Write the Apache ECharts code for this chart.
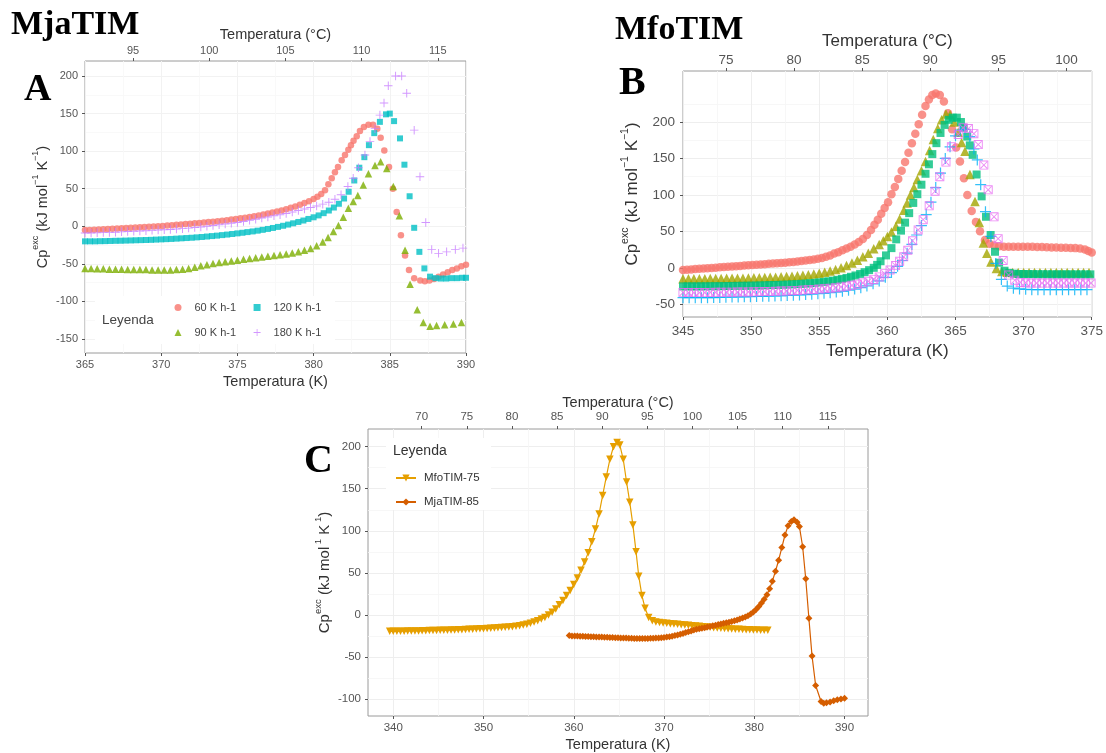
<!DOCTYPE html>
<html><head><meta charset="utf-8">
<script src="https://cdn.jsdelivr.net/npm/echarts@6/dist/echarts.min.js"></script>
<style>html,body{margin:0;padding:0;background:#fff}#c{width:1106px;height:753px}</style>
</head><body><div id="c"></div>
<script>
// ---------- Panel A (MjaTIM) ----------
const A_X_TICKS = [365, 370, 375, 380, 385, 390];
const A_X_MINOR = [367.5, 372.5, 377.5, 382.5, 387.5];
const A_C_TICKS = [95, 100, 105, 110, 115];
const A_Y_TICKS = [-150, -100, -50, 0, 50, 100, 150, 200];
const A_Y_MINOR = [-125, -75, -25, 25, 75, 125, 175];
const A_NAMES = ['60 K h-1', '90 K h-1', '120 K h-1', '180 K h-1'];
const A_60 = [[365.0,-5],[365.3,-5],[365.6,-4.6],[365.9,-4.3],[366.2,-4],[366.5,-3.7],[366.8,-3.3],[367.1,-3],[367.4,-2.6],[367.7,-2.3],[368.0,-2],[368.3,-1.6],[368.6,-1.3],[368.9,-1],[369.2,-0.6],[369.5,-0.3],[369.8,0],[370.1,0.5],[370.4,1],[370.7,1.5],[371.0,2],[371.3,2.5],[371.6,3],[371.9,3.5],[372.2,4],[372.5,4.5],[372.8,5],[373.1,5.6],[373.4,6.2],[373.7,6.8],[374.0,7.5],[374.3,8.2],[374.6,9],[374.9,9.8],[375.2,10.6],[375.5,11.5],[375.8,12.4],[376.1,13.4],[376.4,14.5],[376.7,15.6],[377.0,17],[377.3,18.3],[377.6,19.7],[377.9,21.2],[378.2,22.8],[378.5,24.6],[378.8,26.5],[379.1,28.6],[379.4,31],[379.7,33.5],[380.0,36.5],[380.25,39.5],[380.5,43],[380.75,48],[380.97,56],[381.19,64],[381.4,72],[381.6,79],[381.84,88],[382.06,95],[382.28,102],[382.45,108],[382.62,114],[382.83,120],[383.04,127],[383.3,132],[383.6,135],[383.9,135],[384.18,130],[384.4,118],[384.64,101],[384.95,79],[385.2,50],[385.45,19],[385.73,-12],[386.0,-39],[386.26,-58],[386.6,-69],[387.0,-72],[387.3,-73],[387.6,-72],[387.9,-70],[388.2,-67],[388.5,-64],[388.8,-61],[389.1,-58],[389.4,-56],[389.7,-53],[390.0,-51]];
const A_90 = [[365.0,-56],[365.4,-56],[365.8,-56.5],[366.2,-56.5],[366.6,-57],[367.0,-57],[367.4,-57],[367.8,-57.5],[368.2,-57.5],[368.6,-57.5],[369.0,-57.5],[369.4,-58],[369.8,-58],[370.2,-58],[370.6,-58],[371.0,-57.5],[371.4,-57],[371.8,-56],[372.2,-54.5],[372.6,-52.5],[373.0,-51],[373.4,-49.5],[373.8,-48],[374.2,-47],[374.6,-46],[375.0,-45],[375.4,-44],[375.8,-43],[376.2,-42],[376.6,-41],[377.0,-40],[377.4,-39],[377.8,-38],[378.2,-37],[378.6,-35.5],[379.0,-34],[379.4,-32],[379.8,-29.5],[380.2,-26],[380.6,-21],[380.95,-15],[381.3,-7],[381.63,1],[381.95,12],[382.28,24],[382.6,33],[382.9,41],[383.26,55],[383.6,70],[384.03,81],[384.4,86],[384.8,77],[385.23,53],[385.63,14],[386.0,-32],[386.33,-77],[386.8,-111],[387.2,-128],[387.64,-133],[388.07,-132],[388.6,-131],[389.17,-130],[389.7,-128]];
const A_120 = [[365.0,-20],[365.33,-20],[365.66,-20],[366.0,-19.8],[366.33,-19.7],[366.66,-19.5],[367.0,-19.3],[367.33,-19.2],[367.66,-19],[368.0,-18.8],[368.33,-18.6],[368.66,-18.4],[369.0,-18.2],[369.33,-18],[369.66,-17.7],[370.0,-17.4],[370.33,-17.1],[370.66,-16.8],[371.0,-16.4],[371.33,-16],[371.66,-15.6],[372.0,-15.2],[372.33,-14.7],[372.66,-14.2],[373.0,-13.6],[373.33,-13],[373.66,-12.4],[374.0,-11.7],[374.33,-11],[374.66,-10.2],[375.0,-9.4],[375.33,-8.6],[375.66,-7.7],[376.0,-6.8],[376.33,-5.8],[376.66,-4.7],[377.0,-3.5],[377.33,-2.2],[377.66,-0.8],[378.0,0.7],[378.33,2.3],[378.66,4],[379.0,5.8],[379.33,7.7],[379.66,9.8],[380.0,12],[380.33,14.5],[380.66,17.5],[381.0,21],[381.33,25],[381.66,30],[382.0,37],[382.3,46],[382.67,61],[383.0,78],[383.33,92],[383.63,108],[383.98,124],[384.35,139],[384.75,149],[385.0,150],[385.28,140],[385.67,117],[385.96,82],[386.3,40],[386.6,-2],[386.94,-34],[387.27,-56],[387.64,-67],[388.0,-69],[388.35,-69.5],[388.7,-69.5],[389.05,-69],[389.4,-69],[389.75,-68.5],[390.0,-68.5]];
const A_180 = [[365.0,-9],[365.4,-9],[365.8,-8.7],[366.2,-8.4],[366.6,-8.1],[367.0,-7.8],[367.4,-7.4],[367.8,-7],[368.2,-6.6],[368.6,-6.2],[369.0,-5.8],[369.4,-5.4],[369.8,-5],[370.2,-4.6],[370.6,-4.2],[371.0,-3.7],[371.4,-3.1],[371.8,-2.4],[372.2,-1.6],[372.6,-0.8],[373.0,0],[373.4,1],[373.8,2],[374.2,3],[374.6,4],[375.0,5],[375.4,6.5],[375.8,8],[376.2,9.5],[376.6,11],[377.0,12.5],[377.4,14],[377.8,15.5],[378.2,17],[378.6,19],[379.0,21],[379.4,23],[379.8,25],[380.2,27],[380.6,29.5],[381.0,32],[381.4,36],[381.8,42],[382.25,53],[382.6,64],[382.94,78],[383.37,95],[383.7,113],[384.03,130],[384.35,148],[384.62,164],[384.9,187],[385.38,200],[385.78,200],[386.11,177],[386.6,128],[386.98,66],[387.36,5],[387.75,-31],[388.2,-36],[388.73,-34],[389.3,-31],[389.8,-29]];

// ---------- Panel B (MfoTIM) ----------
const B_X_TICKS = [345, 350, 355, 360, 365, 370, 375];
const B_X_MINOR = [347.5, 352.5, 357.5, 362.5, 367.5, 372.5];
const B_C_TICKS = [75, 80, 85, 90, 95, 100];
const B_Y_TICKS = [-50, 0, 50, 100, 150, 200];
const B_Y_MINOR = [-25, 25, 75, 125, 175, 225];
const B_RED = [[345.0,-3],[345.3,-2.6],[345.6,-2.2],[345.9,-1.8],[346.2,-1.4],[346.5,-1],[346.8,-0.6],[347.1,-0.2],[347.4,0.2],[347.7,0.6],[348.0,1],[348.3,1.4],[348.6,1.8],[348.9,2.2],[349.2,2.6],[349.5,3],[349.8,3.4],[350.1,3.8],[350.4,4.2],[350.7,4.6],[351.0,5],[351.3,5.4],[351.6,5.8],[351.9,6.2],[352.2,6.6],[352.5,7],[352.8,7.5],[353.1,8],[353.4,8.6],[353.7,9.2],[354.0,9.9],[354.3,10.6],[354.6,11.4],[354.9,12.3],[355.2,13.5],[355.5,15],[355.8,17],[356.1,19.5],[356.4,21.5],[356.7,24],[357.0,26.5],[357.3,29],[357.6,32],[357.9,35.5],[358.2,39.5],[358.5,45],[358.8,52],[359.05,59],[359.3,66],[359.55,74],[359.8,82],[360.05,90],[360.3,101],[360.55,111],[360.8,122],[361.05,133],[361.3,145],[361.55,158],[361.8,171],[362.05,184],[362.3,197],[362.55,210],[362.8,222],[363.05,231],[363.3,237],[363.55,239],[363.85,237],[364.15,228],[364.45,212],[364.75,190],[365.05,165],[365.33,146],[365.62,123],[365.87,100],[366.19,78],[366.5,63],[366.8,50],[367.16,38],[367.5,33],[367.85,30.5],[368.2,29.5],[368.55,29],[368.9,29],[369.25,29],[369.6,29],[369.95,29],[370.3,29],[370.65,28.8],[371.0,28.6],[371.35,28.4],[371.7,28.2],[372.05,28],[372.4,27.8],[372.75,27.6],[373.1,27.4],[373.45,27.2],[373.8,27],[374.15,26.5],[374.5,25],[374.75,23],[375.0,21]];
const B_OLIVE = [[345.0,-15],[345.4,-15],[345.8,-15],[346.2,-15],[346.6,-14.9],[347.0,-14.8],[347.4,-14.7],[347.8,-14.6],[348.2,-14.5],[348.6,-14.4],[349.0,-14.3],[349.4,-14.2],[349.8,-14],[350.2,-13.8],[350.6,-13.6],[351.0,-13.4],[351.4,-13.1],[351.8,-12.8],[352.2,-12.4],[352.6,-12],[353.0,-11.5],[353.4,-11],[353.8,-10.3],[354.2,-9.5],[354.6,-8.6],[355.0,-7.5],[355.4,-6],[355.8,-4.5],[356.2,-2.5],[356.6,0],[357.0,3],[357.4,6.5],[357.8,10.5],[358.2,15],[358.6,20],[359.0,26],[359.4,32],[359.7,37],[360.0,43],[360.3,49],[360.63,57],[360.9,67],[361.21,79],[361.45,89],[361.7,100],[361.95,110],[362.2,121],[362.5,133],[362.8,146],[363.1,161],[363.37,176],[363.7,191],[363.98,203],[364.3,211],[364.6,210],[364.9,200],[365.2,186],[365.45,172],[365.7,160],[366.06,128],[366.43,91],[366.75,62],[367.04,34],[367.3,20],[367.6,8],[368.0,-1],[368.4,-5],[368.8,-6],[369.2,-6.5],[369.6,-6.5],[370.0,-6.5],[370.4,-6.5],[370.8,-6.5],[371.2,-6.5],[371.6,-6.5],[372.0,-6.5],[372.4,-6.5],[372.8,-6.5],[373.2,-6.5],[373.6,-6.5],[374.0,-6.5],[374.4,-6.5],[374.8,-6.5]];
const B_GREEN = [[345.0,-25.5],[345.33,-25.5],[345.66,-25.5],[346.0,-25.5],[346.33,-25.4],[346.66,-25.4],[347.0,-25.3],[347.33,-25.3],[347.66,-25.2],[348.0,-25.1],[348.33,-25],[348.66,-24.9],[349.0,-24.8],[349.33,-24.7],[349.66,-24.6],[350.0,-24.5],[350.33,-24.4],[350.66,-24.2],[351.0,-24],[351.33,-23.8],[351.66,-23.6],[352.0,-23.4],[352.33,-23.2],[352.66,-23],[353.0,-22.7],[353.33,-22.4],[353.66,-22],[354.0,-21.6],[354.33,-21.1],[354.66,-20.6],[355.0,-20],[355.33,-19.3],[355.66,-18.5],[356.0,-17.6],[356.33,-16.5],[356.66,-15.3],[357.0,-13.9],[357.33,-12.3],[357.66,-10.5],[358.0,-8.4],[358.33,-6],[358.66,-3.2],[359.0,0],[359.25,4],[359.5,9],[359.9,17],[360.3,27],[360.65,39],[361.0,51],[361.3,62],[361.6,75],[361.9,89],[362.2,101],[362.5,114],[362.8,129],[363.05,142],[363.3,156],[363.6,171],[363.9,185],[364.2,196],[364.5,203],[364.8,206],[365.1,206],[365.4,200],[365.6,192],[365.86,180],[366.05,168],[366.26,155],[366.55,128],[366.92,98],[367.24,70],[367.58,45],[367.9,22],[368.2,7],[368.6,-4],[368.95,-7],[369.3,-8],[369.65,-8.5],[370.0,-8.5],[370.35,-8.6],[370.7,-8.7],[371.05,-8.8],[371.4,-8.8],[371.75,-8.9],[372.1,-9],[372.45,-9],[372.8,-9],[373.15,-9],[373.5,-9],[373.85,-9],[374.2,-9],[374.55,-9],[374.9,-9]];
const B_BLUE = [[345.0,-41],[345.45,-41],[345.9,-41],[346.35,-41],[346.8,-41],[347.25,-40.8],[347.7,-40.6],[348.15,-40.4],[348.6,-40.2],[349.05,-40],[349.5,-39.8],[349.95,-39.6],[350.4,-39.4],[350.85,-39.2],[351.3,-39],[351.75,-38.7],[352.2,-38.4],[352.65,-38],[353.1,-37.6],[353.55,-37.2],[354.0,-36.7],[354.45,-36.2],[354.9,-35.6],[355.35,-35],[355.8,-34.2],[356.25,-33.3],[356.7,-32.2],[357.15,-30.8],[357.6,-29.2],[358.05,-27.2],[358.5,-24.8],[358.95,-22],[359.4,-18],[359.85,-13],[360.3,-6.5],[360.75,2],[361.1,10],[361.45,20],[361.8,32],[362.15,45],[362.5,58],[362.85,73],[363.2,90],[363.55,110],[363.9,130],[364.25,150],[364.6,166],[365.0,181],[365.35,189],[365.7,190],[366.05,180],[366.35,163],[366.6,148],[366.85,114],[367.2,77],[367.6,43],[367.96,6],[368.37,-16],[368.8,-25],[369.25,-28],[369.7,-29],[370.15,-29.5],[370.6,-30],[371.05,-30],[371.5,-30],[371.95,-30],[372.4,-30],[372.85,-30],[373.3,-30],[373.75,-30],[374.2,-30],[374.65,-30]];
const B_PINK = [[345.0,-34],[345.4,-34],[345.8,-34],[346.2,-34],[346.6,-34],[347.0,-33.8],[347.4,-33.7],[347.8,-33.6],[348.2,-33.5],[348.6,-33.4],[349.0,-33.3],[349.4,-33.2],[349.8,-33.1],[350.2,-33],[350.6,-32.8],[351.0,-32.6],[351.4,-32.4],[351.8,-32.2],[352.2,-32],[352.6,-31.7],[353.0,-31.4],[353.4,-31],[353.8,-30.6],[354.2,-30.2],[354.6,-29.7],[355.0,-29.2],[355.4,-28.6],[355.8,-28],[356.2,-27.2],[356.6,-26.3],[357.0,-25.2],[357.4,-24],[357.8,-22.5],[358.2,-20.7],[358.6,-18.5],[359.0,-16],[359.4,-12.5],[359.8,-8],[360.2,-3],[360.6,3],[360.9,9],[361.2,15],[361.5,24],[361.85,37],[362.26,52],[362.63,66],[363.07,85],[363.5,105],[363.85,125],[364.3,145],[364.7,166],[365.2,183],[365.56,192],[365.95,191],[366.35,184],[366.67,169],[367.08,141],[367.4,107],[367.83,70],[368.13,40],[368.5,10],[368.9,-10],[369.35,-17],[369.75,-20],[370.15,-20.5],[370.55,-21],[370.95,-21],[371.35,-21],[371.75,-21],[372.15,-21],[372.55,-21],[372.95,-21],[373.35,-21],[373.75,-21],[374.15,-21],[374.55,-21],[374.95,-21]];

// ---------- Panel C (comparison) ----------
const C_X_TICKS = [340, 350, 360, 370, 380, 390];
const C_X_MINOR = [345, 355, 365, 375, 385];
const C_C_TICKS = [70, 75, 80, 85, 90, 95, 100, 105, 110, 115];
const C_Y_TICKS = [-100, -50, 0, 50, 100, 150, 200];
const C_Y_MINOR = [-75, -25, 25, 75, 125, 175];
const C_MFO = [[339.6,-19.5],[340.0,-19.5],[340.4,-19.5],[340.8,-19.4],[341.2,-19.3],[341.6,-19.2],[342.0,-19.1],[342.4,-19],[342.8,-19],[343.2,-18.9],[343.6,-18.8],[344.0,-18.7],[344.4,-18.6],[344.8,-18.5],[345.2,-18.4],[345.6,-18.3],[346.0,-18.2],[346.4,-18.1],[346.8,-18],[347.2,-17.8],[347.6,-17.6],[348.0,-17.4],[348.4,-17.2],[348.8,-17],[349.2,-16.8],[349.6,-16.6],[350.0,-16.4],[350.4,-16.2],[350.8,-16],[351.2,-15.7],[351.6,-15.4],[352.0,-15.1],[352.4,-14.8],[352.8,-14.4],[353.2,-14],[353.6,-13.4],[354.0,-12.8],[354.4,-12],[354.8,-11],[355.2,-10],[355.6,-8.5],[356.0,-7],[356.4,-5],[356.8,-3],[357.2,0],[357.6,3],[358.0,7],[358.4,12],[358.8,17],[359.2,23],[359.6,29],[360.0,36],[360.4,44],[360.8,53],[361.2,63],[361.6,74],[362.0,87],[362.4,102],[362.8,120],[363.2,142],[363.6,164],[364.0,185],[364.4,200],[364.8,205],[365.1,202],[365.48,185],[365.85,158],[366.2,134],[366.55,107],[366.9,75],[367.2,46],[367.55,23],[367.9,8],[368.3,-3],[368.7,-7],[369.1,-8.5],[369.5,-9],[369.9,-9.5],[370.3,-10],[370.7,-10.4],[371.1,-10.8],[371.5,-11.2],[371.9,-11.6],[372.3,-12],[372.7,-12.4],[373.1,-12.8],[373.5,-13.2],[373.9,-13.6],[374.3,-14],[374.7,-14.4],[375.1,-14.8],[375.5,-15.2],[375.9,-15.5],[376.3,-15.8],[376.7,-16.1],[377.1,-16.4],[377.5,-16.7],[377.9,-17],[378.3,-17.2],[378.7,-17.4],[379.1,-17.6],[379.5,-17.8],[379.9,-18],[380.3,-18.1],[380.7,-18.2],[381.1,-18.3],[381.5,-18.4]];
const C_MJA = [[359.5,-24.5],[359.8,-25],[360.1,-25],[360.4,-25.2],[360.7,-25.4],[361.0,-25.5],[361.3,-25.6],[361.6,-25.8],[361.9,-26],[362.2,-26],[362.5,-26.2],[362.8,-26.3],[363.1,-26.4],[363.4,-26.5],[363.7,-26.7],[364.0,-26.8],[364.3,-27],[364.6,-27.1],[364.9,-27.2],[365.2,-27.4],[365.5,-27.5],[365.8,-27.6],[366.1,-27.8],[366.4,-27.9],[366.7,-28],[367.0,-28.2],[367.3,-28.2],[367.6,-28.2],[367.9,-28.1],[368.2,-28],[368.5,-27.9],[368.8,-27.8],[369.1,-27.6],[369.4,-27.4],[369.7,-27.1],[370.0,-26.8],[370.3,-26.4],[370.6,-25.9],[370.9,-25.3],[371.2,-24.6],[371.5,-23.8],[371.8,-23],[372.1,-22],[372.4,-21],[372.7,-20],[373.0,-19],[373.3,-18],[373.6,-17.2],[373.9,-16.5],[374.2,-15.8],[374.5,-15.2],[374.8,-14.5],[375.1,-13.8],[375.4,-13],[375.7,-12.2],[376.0,-11.5],[376.3,-10.8],[376.6,-10],[376.9,-9.3],[377.2,-8.6],[377.5,-7.8],[377.8,-7],[378.1,-6],[378.4,-5],[378.7,-3.8],[379.0,-2.5],[379.3,-1],[379.6,1],[379.9,3.5],[380.2,6.5],[380.5,10],[380.8,14],[381.1,18.5],[381.4,24],[381.7,31],[382.0,40],[382.35,52],[382.7,65],[383.05,80],[383.4,95],[383.75,106],[384.1,111],[384.4,113],[384.75,110],[385.0,105],[385.36,81],[385.7,43],[386.05,-4],[386.4,-49],[386.8,-84],[387.4,-103],[387.7,-105],[388.0,-104.5],[388.4,-103.5],[388.8,-102],[389.2,-101],[389.6,-100],[390.0,-99]];

// ---------- chart ----------
const FONT = 'Liberation Sans';
const PLUS = 'path://M4.45,0H5.55V10H4.45ZM0,4.45H10V5.55H0Z';
const SQCROSS = 'path://M0,0H10V10H0ZM1,1V9H9V1ZM1.7,1L5,4.3L8.3,1L9,1.7L5.7,5L9,8.3L8.3,9L5,5.7L1.7,9L1,8.3L4.3,5L1,1.7Z';

function yTitle(fs, sup, minus) {
  return {
    name: '{a|Cp}{b|exc}{a| (kJ mol}{b|' + minus + '1}{a| K}{b|' + minus + '1}{a|)}',
    nameTextStyle: { rich: {
      a: { fontSize: fs, fontFamily: FONT, color: '#333', lineHeight: fs + 4, verticalAlign: 'bottom' },
      b: { fontSize: sup, fontFamily: FONT, color: '#333', lineHeight: sup + 1, verticalAlign: 'top' }
    } }
  };
}
function xAx(grid, min, max, ticks, pos, name, lblSize, lblMargin, nameSize, nameGap, split, gridCol) {
  return {
    type: 'value', gridIndex: grid, min: min, max: max, position: pos,
    axisLine: { show: false, onZero: false },
    axisTick: { show: true, length: 3, lineStyle: { color: '#555' }, customValues: ticks },
    axisLabel: { customValues: ticks, color: '#555', fontSize: lblSize, fontFamily: FONT, margin: lblMargin },
    splitLine: { show: split, lineStyle: { color: gridCol || '#eeeeee', width: 1 } },
    name: name, nameLocation: 'middle', nameGap: nameGap,
    nameTextStyle: { fontSize: nameSize, fontFamily: FONT, color: '#333' }
  };
}
function yAx(grid, min, max, ticks, lblSize, lblMargin, nameGap, title, gridCol) {
  return Object.assign({
    type: 'value', gridIndex: grid, min: min, max: max,
    axisLine: { show: false, onZero: false },
    axisTick: { show: true, length: 3, lineStyle: { color: '#555' }, customValues: ticks },
    axisLabel: { customValues: ticks, color: '#555', fontSize: lblSize, fontFamily: FONT, margin: lblMargin },
    splitLine: { show: true, lineStyle: { color: gridCol || '#eeeeee', width: 1 } },
    nameLocation: 'middle', nameGap: nameGap, nameRotate: 90
  }, title);
}
// invisible axes that only carry the faint minor grid lines
function minorAx(grid, min, max, ticks, pos, col) {
  return {
    type: 'value', gridIndex: grid, min: min, max: max, position: pos,
    axisLine: { show: false, onZero: false },
    axisTick: { show: false, customValues: ticks },
    axisLabel: { show: false, customValues: ticks },
    splitLine: { show: true, lineStyle: { color: col || '#f5f5f5', width: 0.8 } }
  };
}
const K0 = 273.15;
const AX = [365, 390], BX = [345, 375], CX = [337.2, 392.6];
const AY = [-168.6, 220], BY = [-67.5, 270], CY = [-120.2, 221];
const MINUS = '\u2212';

const chart = echarts.init(document.getElementById('c'), null, { renderer: 'canvas' });
chart.setOption({
  animation: false,
  backgroundColor: '#fff',
  textStyle: { fontFamily: FONT },
  grid: [
    { left: 85, top: 61, width: 381, height: 292, show: true, borderColor: '#9a9a9a', borderWidth: 1 },
    { left: 683, top: 71, width: 409, height: 246, show: true, borderColor: '#9a9a9a', borderWidth: 1 },
    { left: 368, top: 429, width: 500, height: 287, show: true, borderColor: '#9a9a9a', borderWidth: 1 }
  ],
  xAxis: [
    xAx(0, AX[0], AX[1], A_X_TICKS, 'bottom', 'Temperatura (K)', 11, 6, 14.5, 21, true, '#f2f2f2'),
    xAx(0, AX[0] - K0, AX[1] - K0, A_C_TICKS, 'top', 'Temperatura (°C)', 11, 5, 14.5, 19, false),
    xAx(1, BX[0], BX[1], B_X_TICKS, 'bottom', 'Temperatura (K)', 13.5, 7, 17, 26, true),
    xAx(1, BX[0] - K0, BX[1] - K0, B_C_TICKS, 'top', 'Temperatura (°C)', 13.5, 4, 17, 21, false),
    xAx(2, CX[0], CX[1], C_X_TICKS, 'bottom', 'Temperatura (K)', 11.5, 6, 14.5, 21, true),
    xAx(2, CX[0] - K0, CX[1] - K0, C_C_TICKS, 'top', 'Temperatura (°C)', 11.5, 6, 14.5, 19, false),
    minorAx(0, AX[0], AX[1], A_X_MINOR, 'bottom', '#f7f7f7'),
    minorAx(1, BX[0], BX[1], B_X_MINOR, 'bottom'),
    minorAx(2, CX[0], CX[1], C_X_MINOR, 'bottom')
  ],
  yAxis: [
    yAx(0, AY[0], AY[1], A_Y_TICKS, 11, 7, 35, yTitle(14.5, 9, MINUS), '#f2f2f2'),
    yAx(1, BY[0], BY[1], B_Y_TICKS, 13.5, 8, 42, yTitle(17, 10.5, MINUS)),
    yAx(2, CY[0], CY[1], C_Y_TICKS, 11.5, 7, 36, yTitle(15, 9.5, ' ')),
    minorAx(0, AY[0], AY[1], A_Y_MINOR, 'left', '#f7f7f7'),
    minorAx(1, BY[0], BY[1], B_Y_MINOR, 'left'),
    minorAx(2, CY[0], CY[1], C_Y_MINOR, 'left')
  ],
  legend: [
    { data: ['60 K h-1', '120 K h-1'], left: 174.5, top: 302, padding: 0, itemWidth: 7, itemHeight: 7, itemGap: 17.5, selectedMode: false,
      textStyle: { fontSize: 11, color: '#444', fontFamily: FONT, padding: [0, 0, 0, 8] } },
    { data: ['90 K h-1', '180 K h-1'], left: 174.5, top: 327, padding: 0, itemWidth: 7, itemHeight: 7, itemGap: 17.5, selectedMode: false,
      textStyle: { fontSize: 11, color: '#444', fontFamily: FONT, padding: [0, 0, 0, 8] } },
    { data: ['MfoTIM-75', 'MjaTIM-85'], orient: 'vertical', left: 395, top: 472, padding: 0, itemWidth: 20, itemHeight: 9, itemGap: 12, selectedMode: false,
      textStyle: { fontSize: 11.5, color: '#333', fontFamily: FONT, padding: [0, 0, 0, 3] } }
  ],
  graphic: [
    { type: 'rect', z: 1, shape: { x: 95, y: 296, width: 240, height: 48 }, style: { fill: '#fff' } },
    { type: 'rect', z: 1, shape: { x: 386, y: 438, width: 105, height: 72 }, style: { fill: '#fff' } },
    { type: 'text', z: 5, x: 11, y: 25, style: { text: 'MjaTIM', font: 'bold 34px "Liberation Serif"', fill: '#000', align: 'left', verticalAlign: 'middle' } },
    { type: 'text', z: 5, x: 24, y: 90, style: { text: 'A', font: 'bold 38px "Liberation Serif"', fill: '#000', align: 'left', verticalAlign: 'middle' } },
    { type: 'text', z: 5, x: 615, y: 30, style: { text: 'MfoTIM', font: 'bold 34px "Liberation Serif"', fill: '#000', align: 'left', verticalAlign: 'middle' } },
    { type: 'text', z: 5, x: 619, y: 84, style: { text: 'B', font: 'bold 40px "Liberation Serif"', fill: '#000', align: 'left', verticalAlign: 'middle' } },
    { type: 'text', z: 5, x: 304, y: 462, style: { text: 'C', font: 'bold 40px "Liberation Serif"', fill: '#000', align: 'left', verticalAlign: 'middle' } },
    { type: 'text', z: 5, x: 102, y: 320, style: { text: 'Leyenda', font: '13.5px "Liberation Sans"', fill: '#444', align: 'left', verticalAlign: 'middle' } },
    { type: 'text', z: 5, x: 393, y: 451, style: { text: 'Leyenda', font: '14px "Liberation Sans"', fill: '#333', align: 'left', verticalAlign: 'middle' } }
  ],
  series: [
    { type: 'scatter', name: A_NAMES[0], xAxisIndex: 0, yAxisIndex: 0, data: A_60, symbol: 'circle', symbolSize: 6.5, itemStyle: { color: '#F8766D' } },
    { type: 'scatter', name: A_NAMES[1], xAxisIndex: 0, yAxisIndex: 0, data: A_90, symbol: 'triangle', symbolSize: 7.5, itemStyle: { color: '#7CAE00' } },
    { type: 'scatter', name: A_NAMES[2], xAxisIndex: 0, yAxisIndex: 0, data: A_120, symbol: 'rect', symbolSize: 6, itemStyle: { color: '#00BFC4' } },
    { type: 'scatter', name: A_NAMES[3], xAxisIndex: 0, yAxisIndex: 0, data: A_180, symbol: PLUS, symbolSize: 8.5, itemStyle: { color: '#C77CFF' } },

    { type: 'scatter', name: 'B1', xAxisIndex: 2, yAxisIndex: 1, data: B_RED, symbol: 'circle', symbolSize: 8.5, itemStyle: { color: '#F8766D' } },
    { type: 'scatter', name: 'B2', xAxisIndex: 2, yAxisIndex: 1, data: B_OLIVE, symbol: 'triangle', symbolSize: 9.5, itemStyle: { color: '#A3A500' } },
    { type: 'scatter', name: 'B3', xAxisIndex: 2, yAxisIndex: 1, data: B_GREEN, symbol: 'rect', symbolSize: 8, itemStyle: { color: '#00BF7D' } },
    { type: 'scatter', name: 'B4', xAxisIndex: 2, yAxisIndex: 1, data: B_BLUE, symbol: PLUS, symbolSize: 11, itemStyle: { color: '#00B0F6' } },
    { type: 'scatter', name: 'B5', xAxisIndex: 2, yAxisIndex: 1, data: B_PINK, symbol: SQCROSS, symbolSize: 9, itemStyle: { color: '#E76BF3' } },

    { type: 'line', name: 'MfoTIM-75', xAxisIndex: 4, yAxisIndex: 2, data: C_MFO, symbol: 'triangle', symbolRotate: 180, symbolSize: 7.5,
      lineStyle: { color: '#E69F00', width: 1.2 }, itemStyle: { color: '#E69F00' } },
    { type: 'line', name: 'MjaTIM-85', xAxisIndex: 4, yAxisIndex: 2, data: C_MJA, symbol: 'diamond', symbolSize: 7,
      lineStyle: { color: '#D55E00', width: 1.2 }, itemStyle: { color: '#D55E00' } }
  ]
});
</script></body></html>
